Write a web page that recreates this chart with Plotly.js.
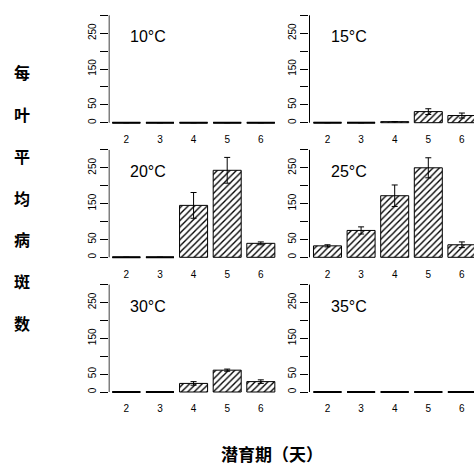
<!DOCTYPE html>
<html>
<head>
<meta charset="utf-8">
<script src="https://cdn.plot.ly/plotly-3.0.1.min.js"></script>
<style>html,body{margin:0;padding:0;background:#fff;}#chart{width:474px;height:465px;}</style>
</head>
<body>
<div id="chart"></div>
<script>
// ---- data ----
const days = [2, 3, 4, 5, 6];
const temps = [10, 15, 20, 25, 30, 35];
const mean10 = [0, 0, 0, 0, 0];
const se10   = [0, 0, 0, 0, 0];
const mean15 = [0, 0, 3, 31, 20];
const se15   = [0, 0, 0, 8, 7];
const mean20 = [0, 0, 145, 243, 39];
const se20   = [0, 0, 36, 36, 4];
const mean25 = [32, 75, 172, 250, 35];
const se25   = [3, 10, 30, 28, 8];
const mean30 = [0, 0, 24, 61, 29];
const se30   = [0, 0, 5, 3, 5];
const mean35 = [0, 0, 0, 0, 0];
const se35   = [0, 0, 0, 0, 0];
const yTickVals = [0, 50, 100, 150, 200, 250, 300];
const yTickText = ['0', '50', '', '150', '', '250', ''];
const yTitle = '每叶平均病斑数';
const xTitle = '潜育期（天）';

const means = [mean10, mean15, mean20, mean25, mean30, mean35];
const ses = [se10, se15, se20, se25, se30, se35];

// ---- layout geometry (pixels) ----
const W = 474, H = 465;
const barW = 1 / 1.2;
const colX = [[108.5, 281], [309, 474]];
const colRange = [[1.47, 6.6], [1.45, 6.36]];
const rowY = [[11, 127], [145.6, 261.6], [280.3, 396.3]];
const yRange = [-12, 312];
const font = 'Liberation Sans, Arial, Helvetica, sans-serif';
const cjk = 'Noto Sans CJK SC, sans-serif';

const traces = [];
const layout = {
  width: W, height: H,
  margin: {l: 0, r: 0, t: 0, b: 0},
  paper_bgcolor: '#fff', plot_bgcolor: 'rgba(0,0,0,0)',
  showlegend: false,
  font: {family: font, size: 10, color: '#000'},
  annotations: [], shapes: []
};

temps.forEach((t, i) => {
  const row = Math.floor(i / 2), col = i % 2;
  const n = i === 0 ? '' : String(i + 1);
  const xa = 'x' + n, ya = 'y' + n;
  traces.push({
    type: 'bar', x: days, y: means[i], width: barW,
    xaxis: xa, yaxis: ya,
    marker: {color: '#fff', line: {color: '#000', width: 1},
             pattern: {shape: '/', fgcolor: '#000', bgcolor: '#fff', size: 4.5, solidity: 0.3}},
    error_y: {type: 'data', array: ses[i], visible: true, color: '#000', thickness: 1, width: 3},
    hoverinfo: 'skip'
  });
  // zero-height bars drawn as a flat outline
  const zx = [], zy = [];
  days.forEach((d, k) => {
    if (means[i][k] === 0) { zx.push(d - barW / 2, d + barW / 2, null); zy.push(0, 0, null); }
  });
  if (zx.length) traces.push({type: 'scatter', mode: 'lines', x: zx, y: zy, xaxis: xa, yaxis: ya,
    line: {color: '#000', width: 2}, hoverinfo: 'skip', cliponaxis: false});

  layout['xaxis' + n] = {
    domain: [colX[col][0] / W, colX[col][1] / W], range: colRange[col], anchor: ya,
    tickvals: days, ticktext: days.map(String), showgrid: false, zeroline: false, showline: false,
    ticks: 'outside', ticklen: 3, tickcolor: 'rgba(0,0,0,0)', tickfont: {family: font, size: 10, color: '#000'},
    fixedrange: true
  };
  layout['yaxis' + n] = {
    domain: [1 - rowY[row][1] / H, 1 - rowY[row][0] / H], range: yRange, anchor: xa,
    tickvals: yTickVals, ticktext: yTickText, tickangle: -90, showgrid: false, zeroline: false,
    showline: false, ticks: 'outside', ticklen: 8, tickwidth: 1, tickcolor: '#000',
    tickfont: {family: font, size: 10, color: '#000'}, fixedrange: true
  };
  // y axis line from 0 to 300 (R style), placed half a pixel inside the plot area
  const axX = colRange[col][0] + 0.5 * (colRange[col][1] - colRange[col][0]) / (colX[col][1] - colX[col][0]);
  layout.shapes.push({type: 'line', xref: xa, yref: ya, x0: axX, x1: axX,
    y0: yTickVals[0], y1: yTickVals[yTickVals.length - 1], line: {color: '#000', width: 1}});
  layout.annotations.push({xref: xa, yref: ya, x: 2.04, y: 240, xanchor: 'left', yanchor: 'middle',
    text: t + '°C', showarrow: false, font: {family: font, size: 16, color: '#000'}});
});

// y title: stacked characters
Array.from(yTitle).forEach((ch, k) => {
  layout.annotations.push({xref: 'paper', yref: 'paper', x: 22 / W, y: 1 - (71.7 + k * 41.95) / H,
    xanchor: 'center', yanchor: 'middle', text: '<b>' + ch + '</b>', showarrow: false,
    font: {family: cjk, size: 16, color: '#000'}});
});
layout.annotations.push({xref: 'paper', yref: 'paper', x: 271.5 / W, y: 1 - 453 / H,
  xanchor: 'center', yanchor: 'middle', text: '<b>' + xTitle + '</b>', showarrow: false,
  font: {family: cjk, size: 17, color: '#000'}});

Plotly.newPlot('chart', traces, layout, {staticPlot: true, displayModeBar: false});
</script>
</body>
</html>
